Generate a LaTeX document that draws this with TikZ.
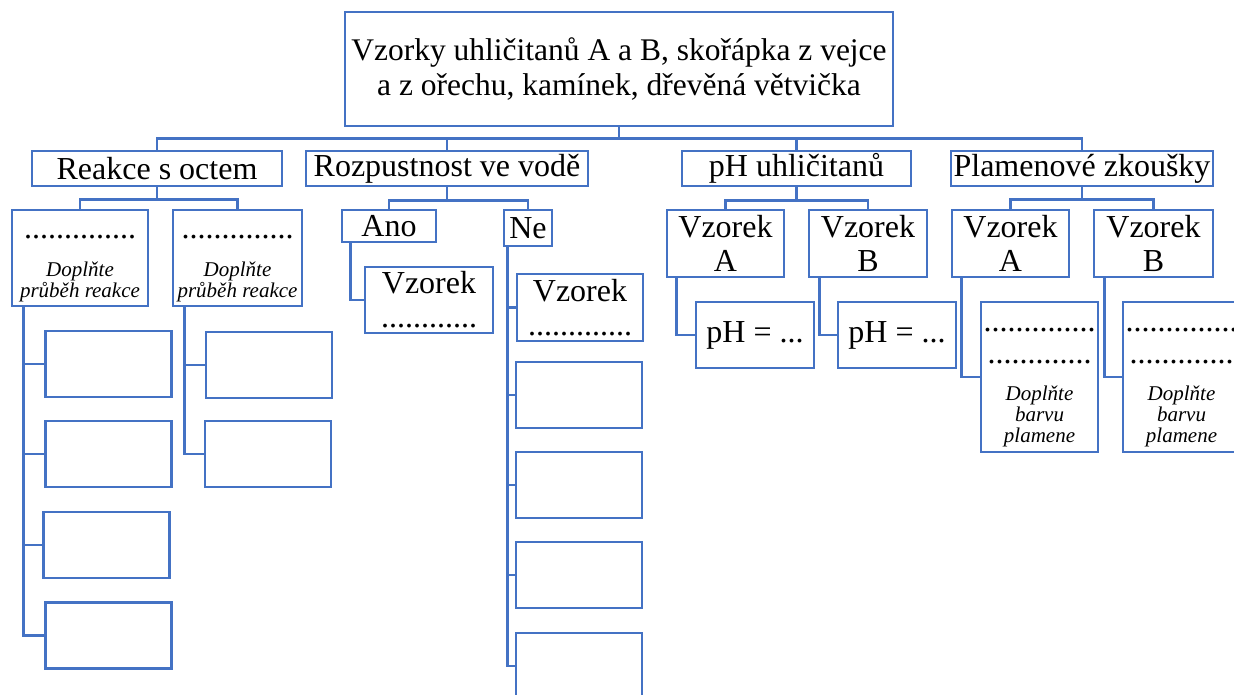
\documentclass[tikz,border=0pt]{standalone}
\usepackage{fontspec}
\setmainfont{Liberation Serif}
\usepackage{xcolor}
\definecolor{boxblue}{HTML}{4472C4}
\newcommand\hint{\fontsize{21}{22}\selectfont\itshape}

\begin{document}
\begin{tikzpicture}[x=1pt, y=-1pt, font=\fontsize{32}{34}\selectfont,
  b/.style={draw=boxblue, line width=2.7pt, inner sep=0pt, align=center, fill=white},
  wh/.style 2 args={minimum width=#1pt, minimum height=#2pt},
  e/.style={b, wh={126}{66}},
  ln/.style={draw=boxblue, line width=2.7pt}]
\useasboundingbox[fill=white] (0,0) rectangle (1234,695);
% root
\node[b, wh={548}{114}, font=\fontsize{31.5}{34.5}\selectfont] (top) at (619,69) {Vzorky uhličitanů A a B, skořápka z vejce\\a z ořechu, kamínek, dřevěná větvička};
% second level
\node[b, wh={250}{35}] (reakce) at (157,168.5) {Reakce s octem};
\node[b, wh={282}{35}] (rozp) at (447,168.5) {Rozpustnost ve vodě};
\node[b, wh={229}{35}] (ph) at (796.5,168.5) {pH uhličitanů};
\node[b, wh={262}{35}] (plamen) at (1082,168.5) {Plamenové zkoušky};
% reakce s octem
\node[b, wh={136}{96}] (r1) at (80,258) {\strut..............\\[4pt]{\hint Doplňte}\\[-13pt]{\hint průběh reakce}};
\node[b, wh={129}{96}] (r2) at (237.5,258) {\strut..............\\[4pt]{\hint Doplňte}\\[-13pt]{\hint průběh reakce}};
\node[e] (r1a) at (108.5,364) {};
\node[e] (r1b) at (108.5,454) {};
\node[e] (r1c) at (106.5,545) {};
\node[e] (r1d) at (108.5,635.5) {};
\node[e] (r2a) at (269,365) {};
\node[e] (r2b) at (268,454) {};
% rozpustnost
\node[b, wh={94}{32}] (ano) at (389,226) {Ano};
\node[b, wh={48}{36}] (ne) at (528,228) {Ne};
\node[b, wh={128}{66}] (ano1) at (429,300) {Vzorek\\............};
\node[b, wh={126}{67}] (ne1) at (580,307.5) {Vzorek\\.............};
\node[e] (ne2) at (579,395) {};
\node[e] (ne3) at (579,485) {};
\node[e] (ne4) at (579,575) {};
\node[e] (ne5) at (579,666) {};
% pH
\node[b, wh={117}{67}] (pa) at (725.5,243.5) {Vzorek\\A};
\node[b, wh={118}{67}] (pb) at (868,243.5) {Vzorek\\B};
\node[b, wh={118}{66}] (pa1) at (755,335) {pH = ...};
\node[b, wh={118}{66}] (pb1) at (897,335) {pH = ...};
% plamenove zkousky
\node[b, wh={117}{67}] (fa) at (1010.5,243.5) {Vzorek\\A};
\node[b, wh={119}{67}] (fb) at (1153.5,243.5) {Vzorek\\B};
\node[b, wh={117}{150}] (fa1) at (1039.5,377) {\strut..............\\[-2pt].............\\[3pt]{\hint Doplňte}\\[-13pt]{\hint barvu}\\[-13pt]{\hint plamene}};
\node[b, wh={117}{150}] (fb1) at (1181.5,377) {\strut..............\\[-2pt].............\\[3pt]{\hint Doplňte}\\[-13pt]{\hint barvu}\\[-13pt]{\hint plamene}};
% connectors
\draw[ln] (top.south) -- ++(0,11) coordinate (bus);
\draw[ln] (reakce.north) |- (bus) -| (plamen.north);
\draw[ln] (rozp.north) -- (rozp.north |- bus);
\draw[ln] (ph.north) -- (ph.north |- bus);
\draw[ln] (reakce.south) -- ++(0,12) coordinate (rb);
\draw[ln] (r1.north) |- (rb) -| (r2.north);
\draw[ln] (rozp.south) -- ++(0,13) coordinate (sb);
\draw[ln] (ano.north) |- (sb) -| (ne.north);
\draw[ln] (ph.south) -- ++(0,13) coordinate (pbus);
\draw[ln] (pa.north) |- (pbus) -| (pb.north);
\draw[ln] (plamen.south) -- ++(0,12) coordinate (fbus);
\draw[ln] (fa.north) |- (fbus) -| (fb.north);
\foreach \n in {r1a,r1b,r1c,r1d} \draw[ln] ([xshift=13pt]r1.south west) |- (\n.west);
\foreach \n in {r2a,r2b} \draw[ln] ([xshift=13pt]r2.south west) |- (\n.west);
\draw[ln] ([xshift=10pt]ano.south west) |- (ano1.west);
\foreach \n in {ne1,ne2,ne3,ne4,ne5} \draw[ln] ([xshift=5pt]ne.south west) |- (\n.west);
\draw[ln] ([xshift=11pt]pa.south west) |- (pa1.west);
\draw[ln] ([xshift=12pt]pb.south west) |- (pb1.west);
\draw[ln] ([xshift=11pt]fa.south west) |- (fa1.west);
\draw[ln] ([xshift=12pt]fb.south west) |- (fb1.west);
\end{tikzpicture}
\end{document}
